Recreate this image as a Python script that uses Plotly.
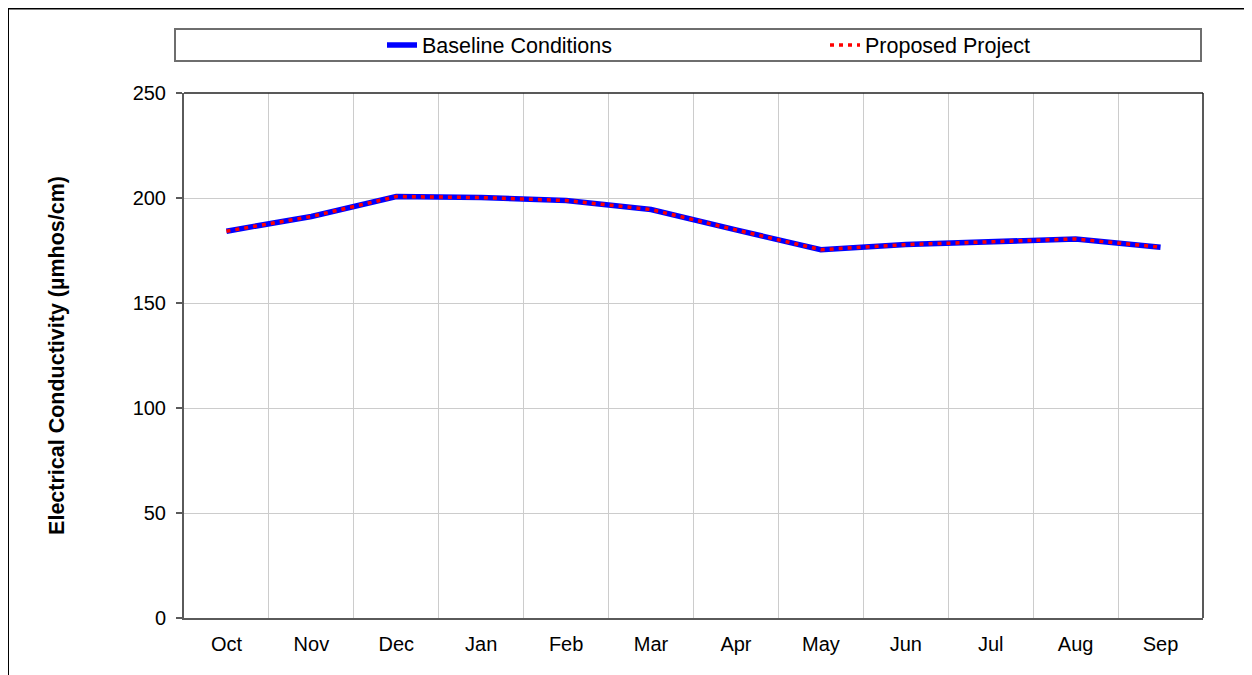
import plotly.graph_objects as go

months = ["Oct", "Nov", "Dec", "Jan", "Feb", "Mar", "Apr", "May", "Jun", "Jul", "Aug", "Sep"]
baseline = [184.2, 191.2, 200.7, 200.2, 198.8, 194.5, 184.8, 175.4, 177.8, 179.3, 180.5, 176.6]
proposed = [184.2, 191.2, 200.7, 200.2, 198.8, 194.5, 184.8, 175.4, 177.8, 179.3, 180.5, 176.6]
y_ticks = [0, 50, 100, 150, 200, 250]

FONT = "Liberation Sans, Arial, sans-serif"

fig = go.Figure()
fig.add_trace(go.Scatter(x=months, y=baseline, name="Baseline Conditions", mode="lines",
                         line=dict(color="#0000FF", width=5.5), legend="legend"))
fig.add_trace(go.Scatter(x=months, y=proposed, name="Proposed Project", mode="lines",
                         line=dict(color="#FF0000", width=3.5, dash="4px,5px"), legend="legend2"))

# page body has an 8px margin; positions below are target screen px minus 8
OFF = 8
W, H = 1252, 675
L, R, T, B = 184 - OFF, 1203 - OFF, 93 - OFF, 618 - OFF
pw, ph = R - L, B - T

def px_x(p):
    return (p - OFF - L) / pw

def px_y(p):
    return (B - (p - OFF)) / ph

leg_common = dict(orientation="h", xanchor="left", yanchor="middle", bgcolor="rgba(0,0,0,0)",
                  borderwidth=0, font=dict(size=21.5))

fig.update_layout(
    width=W, height=H,
    margin=dict(l=L, r=W - R, t=T, b=H - B, pad=0),
    paper_bgcolor="white", plot_bgcolor="white",
    font=dict(family=FONT, size=20, color="black"),
    showlegend=True,
    legend=dict(x=px_x(382), y=px_y(45), **leg_common),
    legend2=dict(x=px_x(825), y=px_y(45), **leg_common),
    xaxis=dict(type="category", range=[-0.5, 11.5], tickson="boundaries", showgrid=True,
               gridcolor="#cccccc", gridwidth=1, showline=True, linecolor="#5a5a5a",
               linewidth=2, mirror=False, ticks="", ticklabelstandoff=7,
               tickfont=dict(size=20), zeroline=False),
    yaxis=dict(range=[0, 250], tickvals=y_ticks, showgrid=True, gridcolor="#cccccc",
               gridwidth=1, showline=True, linecolor="#5a5a5a", linewidth=2, ticks="outside",
               ticklen=6, tickcolor="#5a5a5a", tickwidth=1.5, ticklabelstandoff=6,
               tickfont=dict(size=20), zeroline=False,
               title=dict(text="<b>Electrical Conductivity (µmhos/cm)</b>",
                          font=dict(size=21.5), standoff=62)),
    shapes=[
        # plot frame top/right
        dict(type="line", xref="paper", yref="paper", x0=0, x1=1, y0=1, y1=1,
             line=dict(color="#222222", width=1.5)),
        dict(type="line", xref="paper", yref="paper", x0=1, x1=1, y0=0, y1=1,
             line=dict(color="#222222", width=1.5)),
        # legend box
        dict(type="rect", xref="paper", yref="paper", x0=px_x(175), x1=px_x(1201),
             y0=px_y(61), y1=px_y(29), line=dict(color="#6e6e6e", width=2)),
        # outer chart frame
        dict(type="rect", xref="paper", yref="paper", x0=px_x(8), x1=px_x(1300),
             y0=px_y(720), y1=px_y(8.5), line=dict(color="black", width=2)),
    ],
)

fig.write_html("out.html")
